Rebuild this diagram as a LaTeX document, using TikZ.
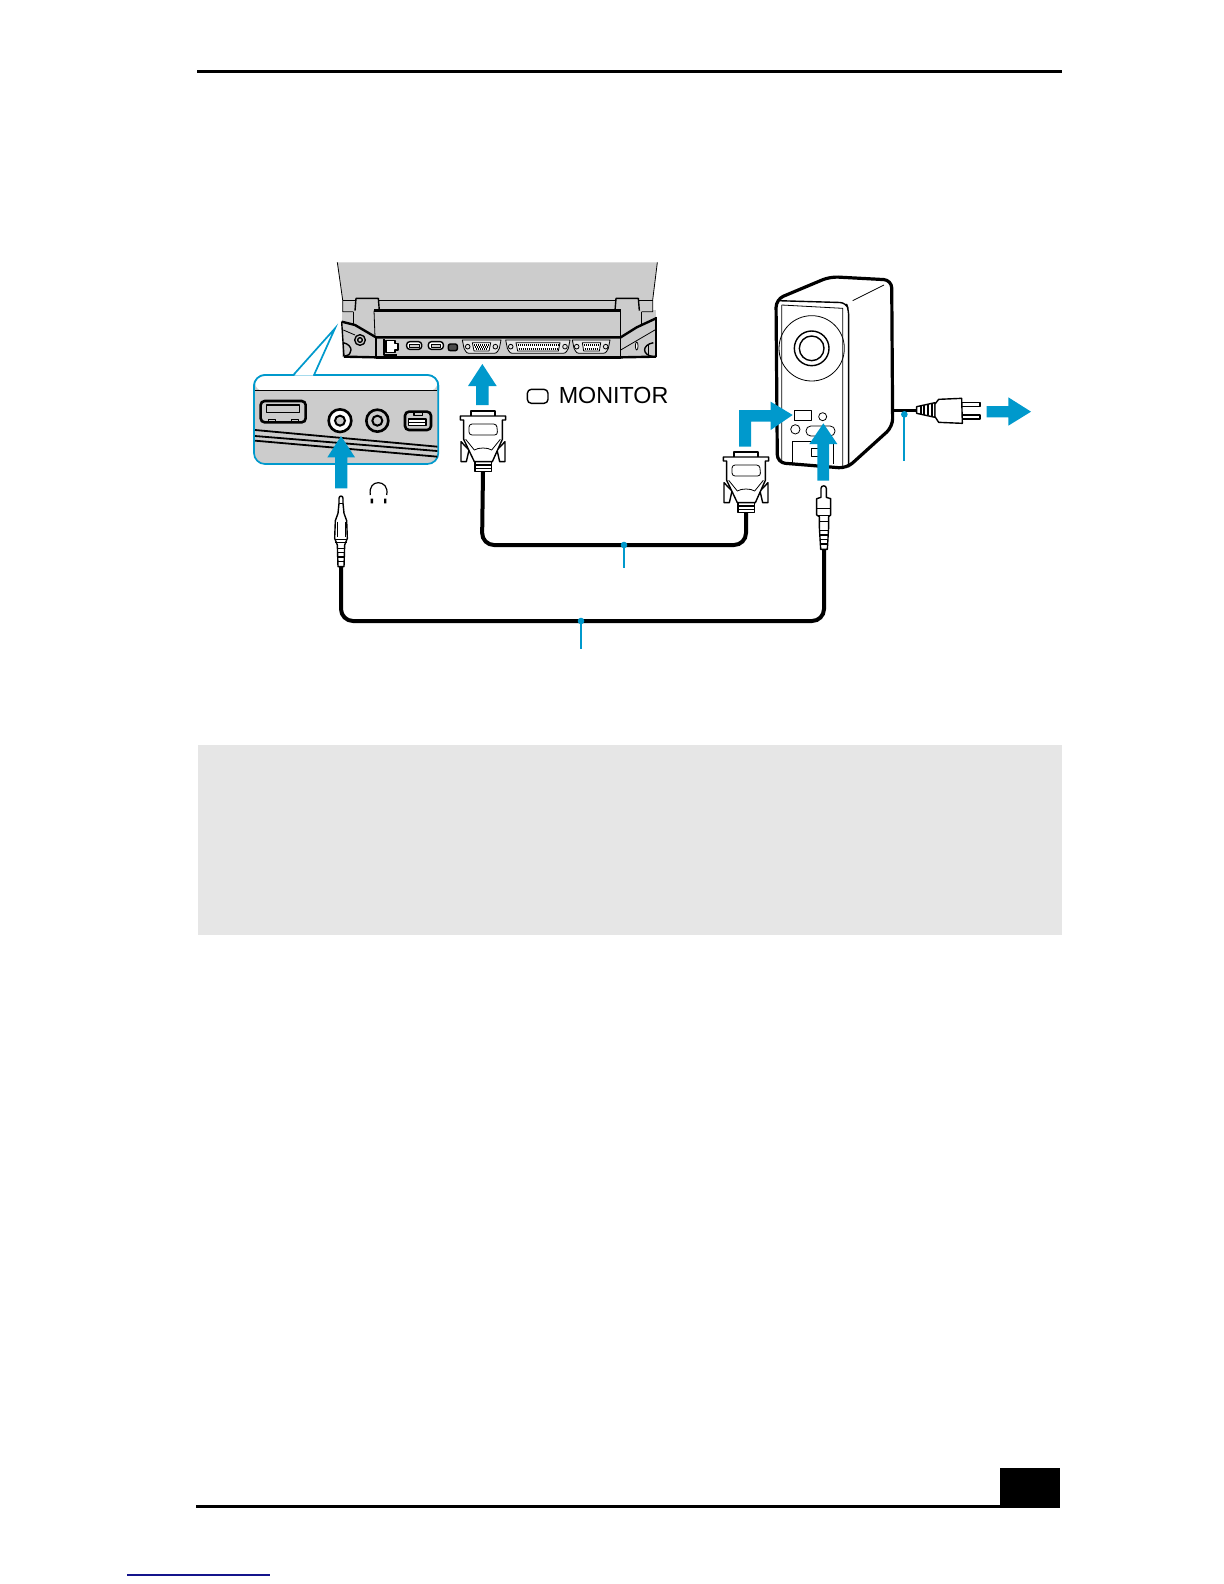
\documentclass[tikz,border=0pt]{standalone}
\usepackage{fontspec}
\setmainfont{Liberation Sans}
\definecolor{cblue}{RGB}{0,153,204}
\definecolor{cgrey}{RGB}{204,204,204}
\definecolor{boxgrey}{RGB}{230,230,230}
\definecolor{linkblue}{RGB}{20,20,140}
\tikzset{
  zoomed/.style={x=0.16667pt,y=-0.16667pt},
  thinln/.style={line width=0.4pt,black,line join=round},
  medln/.style={line width=0.7pt,black,line join=round},
  thickln/.style={line width=1.2pt,black,line join=round},
  cable/.style={line width=2pt,black,rounded corners=6pt},
  bigarrow/.style={fill=cblue,draw=none},
  leader/.style={line width=1pt,cblue},
  portdots/.style={line width=1pt,black,dash pattern=on 0.4pt off 0.6pt},
  vga/.pic={
    \draw[medln,fill=white] (78,48)--(78,33)--(150,33)--(150,48);
    \draw[medln,fill=white] (48,125)--(48,185)--(64,185)--(72,150)--cycle;
    \draw[medln,fill=white] (180,125)--(180,185)--(164,185)--(156,150)--cycle;
    \draw[medln,fill=white] (90,185)--(140,185)--(140,215)--(90,215)--cycle;
    \draw[medln,fill=white] (46,48)--(182,48)--(182,60)--(172,60)--(172,118)--(142,185)--(88,185)--(56,118)--(56,60)--(46,60)--cycle;
    \draw[thinln,rounded corners=1.5pt] (72,72)--(155,72)--(158,105)--(72,105)--cycle;
    \draw[thinln] (62,118)--(88,150)..controls (100,142) and (128,142)..(140,150)--(166,118);
    \draw[medln] (90,195)--(140,195) (90,205)--(140,205);
  },
}
\begin{document}
\begin{tikzpicture}[x=0.5pt,y=-0.5pt]
\useasboundingbox (0,0) rectangle (1224,1584);
\fill[white] (0,0) rectangle (1224,1584);
% page furniture
\fill[black] (197,70.5) rectangle (1062,73.5);
\fill[boxgrey] (198,745) rectangle (1062,935);
\fill[black] (196,1505) rectangle (1060,1508);
\fill[black] (1000,1468) rectangle (1060,1508);
\draw[line width=0.6pt,linkblue] (127,1575) -- (270,1575);

% laptop
\begin{scope}[shift={(240,250)},zoomed]
\fill[cgrey] (292,37)--(1252,37)--(1238,150)--(1238,185)--(1248,200)--(1248,320)--(1142,325)--(408,325)--(312,320)--(305,215)--(308,185)--(308,150)--cycle;
\fill[cgrey] (305,180) rectangle (1248,322);
\fill[white] (290,180) rectangle (305,325) (1248,180) rectangle (1260,325);
\draw[thinln] (292,37)--(308,150)--(308,185)--(340,185);
\draw[thinln] (1252,37)--(1238,150)--(1238,185)--(1205,185);
\draw[thinln] (308,150)--(1238,150);
\draw[medln,fill=cgrey] (345,182)--(348,145)--(415,145)--(418,182);
\draw[medln,fill=cgrey] (1125,182)--(1128,145)--(1195,145)--(1198,182);
\draw[thickln] (402,182)--(1142,182);
\draw[thinln] (340,185)--(340,222);
\draw[thinln] (402,182)--(405,262);
\draw[thinln] (1142,182)--(1142,262);
\draw[thinln] (1205,185)--(1205,222);
\draw[line width=1.2pt] (305,215)--(345,225)--(408,262)--(1142,262)--(1190,232)--(1248,205);
\draw[line width=1.2pt] (1248,200)--(1248,320);
\draw[medln] (305,215)--(312,320);
\draw[thickln] (312,320)--(408,322)--(1142,322)--(1248,320);
\draw[medln] (408,325)--(1142,325) (408,262)--(408,325) (1142,262)--(1142,325);
\draw[thinln] (1142,300)--(1248,238);
\draw[thinln] (310,240)--(345,255);
% left details
\draw[medln] (360,270) circle[radius=16];
\draw[medln] (360,270) circle[radius=7];
\draw[medln] (310,278)..controls (340,285) and (340,315)..(315,318);
% RJ port
\draw[medln] (432,268)--(432,315)--(470,315);
\draw[medln,fill=white] (438,272)--(465,272)--(465,280)--(474,280)--(474,300)--(465,300)--(465,308)--(438,308)--cycle;
% USB ports etc.
\draw[medln,rounded corners=1.5pt,fill=white] (500,275) rectangle (545,298);
\draw[medln,rounded corners=1.5pt,fill=white] (565,275) rectangle (610,298);
\draw[thinln,fill=cgrey] (508,282) rectangle (537,291) (573,282) rectangle (602,291);
\draw[medln,rounded corners=1pt,fill=black!70] (625,282) rectangle (652,302);
% VGA port
\draw[thinln,fill=white!50!cgrey] (667,270)--(783,270)--(778,295)..controls (770,310)..(755,310)--(695,310)..controls (680,310)..(672,295)--cycle;
\draw[thinln,fill=white] (697,278)--(752,278)--(747,303)--(702,303)--cycle;
\draw[portdots] (702,285)--(748,285) (704,292)--(746,292) (708,298)--(742,298);
\draw[thinln] (683,290) circle[radius=7] (766,290) circle[radius=7];
% parallel port
\draw[thinln,fill=white!50!cgrey] (797,270)--(990,270)--(985,295)..controls (977,310)..(962,310)--(825,310)..controls (810,310)..(802,295)--cycle;
\draw[thinln,fill=white] (828,278)--(960,278)--(955,303)--(833,303)--cycle;
\draw[portdots] (833,286)--(955,286) (836,296)--(952,296);
\draw[thinln] (812,290) circle[radius=7] (975,290) circle[radius=7];
% serial port
\draw[thinln,fill=white!50!cgrey] (997,270)--(1110,270)--(1105,295)..controls (1097,310)..(1082,310)--(1025,310)..controls (1010,310)..(1002,295)--cycle;
\draw[thinln,fill=white] (1027,278)--(1082,278)--(1078,303)--(1031,303)--cycle;
\draw[portdots] (1032,286)--(1077,286) (1034,296)--(1075,296);
\draw[thinln] (1010,290) circle[radius=7] (1097,290) circle[radius=7];
% right details
\draw[thinln,fill=white] (1190,288) ellipse[x radius=4,y radius=12];
\draw[medln] (1240,278)..controls (1205,285) and (1205,315)..(1240,320);
\draw[thinln] (1225,285)--(1225,318);

% inset
\filldraw[line width=0.85pt,draw=cblue,fill=cgrey,rounded corners=5.5pt] (42,375) rectangle (595,642);
\fill[white,rounded corners=4pt] (45,378)--(592,378)--(592,422)--(45,422)--cycle;
\draw[line width=0.85pt,cblue,rounded corners=5.5pt] (42,422)--(42,375)--(595,375)--(595,422);
\fill[white] (163,377)--(285,237)--(219,377)--cycle;
\draw[line width=0.85pt,cblue,line join=miter] (160,375)--(285,235)--(222,375);
\draw[medln] (45,422)--(592,422);
\draw[line width=0.9pt] (45,540)--(592,590);
\draw[line width=0.9pt] (45,558)--(592,603);
\draw[line width=0.9pt] (45,572)--(592,620);
% inset ports
\draw[line width=1.3pt,rounded corners=2pt,fill=cgrey] (62,453) rectangle (197,517);
\draw[medln] (80,465) rectangle (178,487);
\draw[thinln] (85,517)--(85,508)--(105,508)--(105,517) (155,517)--(155,508)--(175,508)--(175,517);
\draw[line width=1.3pt,fill=white] (300,512) circle[radius=34];
\draw[line width=1pt,fill=cgrey] (300,512) circle[radius=15];
\draw[line width=1.3pt,fill=cgrey] (412,512) circle[radius=33];
\draw[line width=1pt,fill=cgrey] (412,512) circle[radius=15];
\draw[line width=1.3pt,rounded corners=2pt,fill=cgrey] (495,485) rectangle (573,540);
\draw[medln,fill=white] (505,507)--(558,507)--(558,527)--(505,527)--cycle;
\draw[medln] (505,517)--(558,517);
\draw[medln] (522,490)--(522,497)--(548,497)--(548,490);
% MONITOR
\draw[medln,rounded corners=2pt] (862,418) rectangle (924,460);
\node[anchor=base west,inner sep=0pt,font=\fontsize{11.65pt}{14pt}\selectfont] (monitorlabel) at (955,460) {MONITOR};
% arrows
\fill[bigarrow] (303,558)--(345,622)--(322,622)--(322,715)--(285,715)--(285,622)--(262,622)--cycle;
\fill[bigarrow] (727,342)--(770,408)--(746,408)--(746,465)--(708,465)--(708,408)--(684,408)--cycle;
\end{scope}

% first VGA connector and second
\begin{scope}[shift={(445,400)},zoomed]
\pic (vgaA) at (0,0) {vga};
\coordinate (vgaAout) at (114,215);
\end{scope}
\begin{scope}[shift={(708,441)},zoomed]
\pic (vgaB) at (0,0) {vga};
\coordinate (vgaBout) at (114,215);
\end{scope}

% audio jack, headphones
\begin{scope}[shift={(320,480)},zoomed]
\draw[medln,fill=white] (57,70)--(57,55)..controls (57,46) and (69,46)..(69,55)--(69,70)--(72,100)--(80,122)--(82,175)--(74,195)--(72,260)--(54,260)--(52,195)--(44,175)--(46,122)--(54,100)--cycle;
\draw[thinln] (57,70)--(69,70) (52,125)--(52,172) (75,125)--(75,172) (44,178)--(82,178) (46,188)--(80,188);
\draw[medln] (53,205)--(73,205) (53,218)--(73,218) (53,231)--(73,231) (53,244)--(73,244);
\coordinate (jackout) at (63,260);
% headphones
\draw[line width=0.6pt] (151,45)..controls (147,20) and (160,8)..(175,8)..controls (190,8) and (205,20)..(200,45);
\fill[black] (152,56) rectangle (159,70) (192,56) rectangle (199,70);
\end{scope}

% speaker
\begin{scope}[shift={(700,260)},zoomed]
\draw[line width=1.6pt,fill=white,rounded corners=4pt] (228,118)--(390,50)--(575,60)--(578,500)--(440,625)--(232,608)--cycle;
\draw[medln,rounded corners=3pt] (232,122)--(438,128)--(446,150)--(446,622);
\draw[thinln] (458,122)--(552,75);
\draw[thinln] (245,135)--(428,145)--(428,622) (245,135)--(245,608);
\draw[thinln] (335,265) circle[radius=98];
\draw[medln] (335,265) circle[radius=52];
\draw[medln] (335,265) circle[radius=37];
\draw[thinln] (283,452) rectangle (333,482);
\draw[thinln] (368,470) circle[radius=12];
\draw[thinln] (286,508) circle[radius=14];
\draw[thinln,rounded corners=2.4pt] (318,498) rectangle (405,528);
\draw[thinln] (277,612)--(277,543)--(400,543)--(400,612);
\draw[thinln] (335,565) rectangle (355,590);
% arrows
\fill[bigarrow] (117,560)--(117,450)--(212,450)--(212,425)--(278,465)--(212,510)--(212,485)--(153,485)--(153,560)--cycle;
\fill[bigarrow] (370,490)--(412,552)--(387,552)--(387,662)--(352,662)--(352,552)--(328,552)--cycle;
\fill[bigarrow] (860,438)--(925,438)--(925,412)--(993,455)--(925,497)--(925,472)--(860,472)--cycle;
% RCA plug
\draw[medln,fill=white] (363,712)--(363,685)..controls (363,675) and (379,675)..(379,685)--(379,712)--(392,716)--(392,765)--(386,770)--(386,800)--(382,868)--(362,868)--(358,800)--(358,770)--(350,765)--(350,716)--cycle;
\draw[thinln] (350,745)--(392,745) (350,765)--(392,765) (358,785)--(386,785);
\draw[medln] (360,812)--(384,812) (361,825)--(383,825) (362,838)--(382,838) (362,852)--(382,852);
\coordinate (rcaout) at (372,868);
% power cord and plug
\coordinate (spkpwr) at (578,450);
\coordinate (plugin) at (650,450);
\draw[line width=1.5pt] (spkpwr)--(plugin);
\draw[medln,fill=white] (650,440)--(705,428)--(705,472)--(650,460)--cycle;
\draw[line width=1pt] (662,439)--(662,461) (673,436)--(673,464) (684,434)--(684,466) (695,431)--(695,469);
\draw[medln,fill=white] (785,427)--(840,427)--(840,440)--(785,440)--cycle;
\draw[medln,fill=white] (785,465)--(840,465)--(840,477)--(785,477)--cycle;
\draw[medln,fill=white] (705,432)--(716,418)--(785,415)--(787,490)--(716,487)--(705,470)--cycle;
\coordinate (pwrdot) at (613,463);
\coordinate (pwrend) at (613,602);
\draw[leader] (pwrdot)--(pwrend);
\fill[cblue] (pwrdot) circle[radius=10];
\end{scope}

% cables
\draw[cable] (vgaAout) -- (482,545) -- (746,545) -- (vgaBout);
\draw[cable] (jackout) -- (341,621) -- (824,621) -- (rcaout);
% cable leaders
\coordinate (ldA) at (624,545);
\coordinate (ldAend) at (624,568);
\draw[leader] (ldA)--(ldAend);
\fill[cblue] (ldA) circle[radius=3.3];
\coordinate (ldB) at (581,621);
\coordinate (ldBend) at (581,649);
\draw[leader] (ldB)--(ldBend);
\fill[cblue] (ldB) circle[radius=3.3];
\end{tikzpicture}
\end{document}
